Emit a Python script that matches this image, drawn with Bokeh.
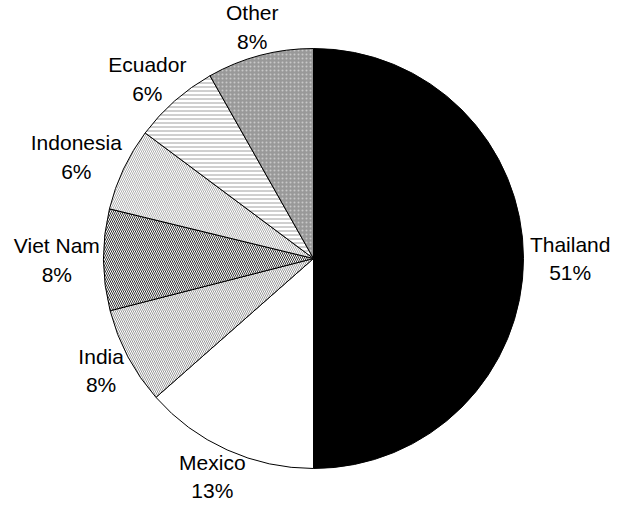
import math
from bokeh.plotting import figure
from bokeh.models import Range1d, ColumnDataSource
from bokeh.core.properties import value
from bokeh.embed import file_html
from bokeh.resources import INLINE

# ---- data ----
countries = ["Thailand", "Mexico", "India", "Viet Nam", "Indonesia", "Ecuador", "Other"]
shares = [50.0, 13.5, 7.5, 7.8, 6.4, 6.6, 8.2]
pct_labels = ["51%", "13%", "8%", "8%", "6%", "6%", "8%"]

# ---- styles ----
fill_colors = ["#000000", "#ffffff", "#ffffff", "#ffffff", "#ffffff", "#ffffff", "#999999"]
hatch_patterns = [" ", " ", "left_diagonal_line", "left_diagonal_line",
                  "left_diagonal_line", "horizontal_line", "dot"]
hatch_colors = ["#000000", "#000000", "#9a9a9a", "#333333", "#b0b0b0", "#a0a0a0", "#c8c8c8"]

W, H = 614, 509
CX, CY = 313, 258          # pie centre in figure pixels (from left / from top)
R = 210
GAP = 3
FONT = 21
LINE_H = 1.25

p = figure(width=W, height=H, output_backend="svg", toolbar_location=None,
           x_range=Range1d(-CX, W - CX), y_range=Range1d(-(H - CY), CY),
           min_border=0)
p.axis.visible = False
p.grid.visible = False
p.outline_line_color = None
p.background_fill_color = "white"
p.border_fill_color = "white"

total = sum(shares)
starts, ends, lx, ly, texts = [], [], [], [], []
cum = 0.0
for c, s, lab in zip(countries, shares, pct_labels):
    a0 = math.pi / 2 - 2 * math.pi * cum / total
    cum += s
    a1 = math.pi / 2 - 2 * math.pi * cum / total
    starts.append(a0)
    ends.append(a1)
    mid = (a0 + a1) / 2
    # label box sits just outside the rim, pushed out by half its size
    bw = 0.52 * FONT * max(len(c), len(lab))
    bh = 2 * FONT * LINE_H
    ca, sa = math.cos(mid), math.sin(mid)
    lx.append((R + GAP) * ca + bw / 2 * ca)
    ly.append((R + GAP) * sa + bh / 2 * sa)
    texts.append(f"{c}\n{lab}")

src = ColumnDataSource(dict(start=starts, end=ends, fill=fill_colors,
                            hatch=hatch_patterns, hcol=hatch_colors))
p.wedge(x=0, y=0, radius=R, start_angle="start", end_angle="end", direction="clock",
        fill_color="fill", hatch_pattern="hatch", hatch_color="hcol",
        hatch_scale=4, hatch_weight=1, line_color="black", line_width=1, source=src)

lsrc = ColumnDataSource(dict(x=lx, y=ly, t=texts))
p.text(x="x", y="y", text="t", source=lsrc, text_align="center", text_baseline="middle",
       text_font=value("Liberation Sans"), text_font_size=f"{FONT}px", text_color="black",
       text_line_height=LINE_H)

open("out.html", "w").write(file_html(p, INLINE))
